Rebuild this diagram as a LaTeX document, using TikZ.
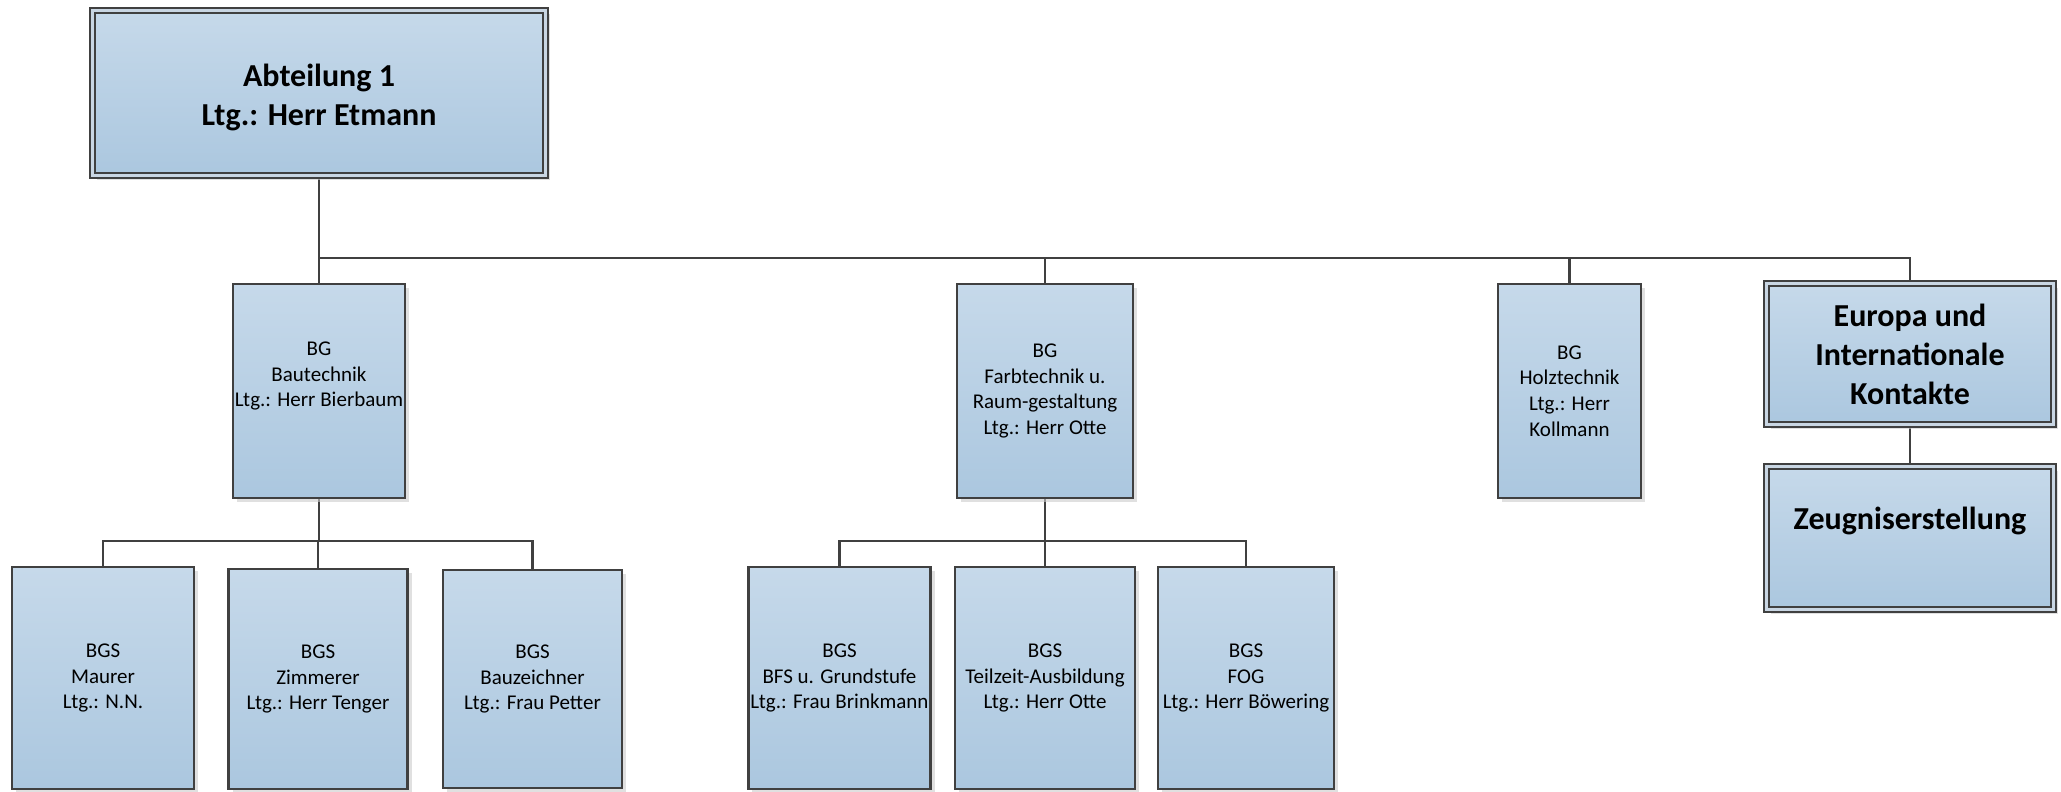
\documentclass[tikz,border=0pt]{standalone}
\usepackage{fontspec}
\setmainfont{Carlito}
\usetikzlibrary{shadows, backgrounds}

\definecolor{boxtop}{HTML}{C6D9EA}
\definecolor{boxbottom}{HTML}{ABC7DF}
\definecolor{boxline}{HTML}{404040}
\definecolor{boxgap}{HTML}{C9D6E3}

\tikzset{
    unit/.style={draw=boxline, line width=2.5pt, top color=boxtop, bottom color=boxbottom,
        align=center, inner sep=2pt, font=\fontsize{21}{25.6}\selectfont,
        drop shadow={shadow xshift=4pt, shadow yshift=-4pt, fill=black!20, opacity=0.6}},
    mainunit/.style={unit, double=boxgap, line width=1.8pt, double distance=3.5pt,
        font=\fontsize{32}{39}\selectfont\bfseries},
    link/.style={draw=boxline, line width=2.8pt},
}

\begin{document}
\begin{tikzpicture}[x=1pt, y=1pt]
    \useasboundingbox (0,0) rectangle (2061,-792);

    % Abteilung
    \node[mainunit, minimum width=453pt, minimum height=165pt] (abt) at (319,-93)
        {\strut\\[-34pt]Abteilung 1\\Ltg.: Herr Etmann};

    % Bildungsgaenge
    \node[unit, minimum width=171pt, minimum height=214pt] (bau) at (319,-391)
        {BG\\Bautechnik\\Ltg.: Herr Bierbaum\\\strut};
    \node[unit, minimum width=176pt, minimum height=214pt] (farb) at (1045,-391)
        {BG\\Farbtechnik u.\\Raum-gestaltung\\Ltg.: Herr Otte};
    \node[unit, minimum width=143pt, minimum height=214pt] (holz) at (1569.5,-391)
        {BG\\Holztechnik\\Ltg.: Herr\\Kollmann};
    \node[mainunit, minimum width=287pt, minimum height=141pt] (europa) at (1910,-354)
        {Europa und\\Internationale\\Kontakte};
    \node[mainunit, minimum width=287pt, minimum height=143pt] (zeug) at (1910,-538)
        {Zeugniserstellung\\[-12pt]\strut};

    % Bildungsgangstufen
    \node[unit, minimum width=182pt, minimum height=222pt] (maurer) at (103,-678)
        {BGS\\Maurer\\Ltg.: N.N.};
    \node[unit, minimum width=179pt, minimum height=220pt] (zimmer) at (318,-679)
        {BGS\\Zimmerer\\Ltg.: Herr Tenger};
    \node[unit, minimum width=179pt, minimum height=218pt] (bauz) at (532.5,-679)
        {BGS\\Bauzeichner\\Ltg.: Frau Petter};
    \node[unit, minimum width=181pt, minimum height=222pt] (bfs) at (839.5,-678)
        {BGS\\BFS u. Grundstufe\\Ltg.: Frau Brinkmann};
    \node[unit, minimum width=180pt, minimum height=222pt] (teilzeit) at (1045,-678)
        {BGS\\Teilzeit-Ausbildung\\Ltg.: Herr Otte};
    \node[unit, minimum width=176pt, minimum height=222pt] (fog) at (1246,-678)
        {BGS\\FOG\\Ltg.: Herr Böwering};

    % Verbindungen
    \coordinate (bus) at (0,-258);
    \coordinate (subbus) at (0,-541);
    \begin{scope}[on background layer]
        \draw[link] (abt.south) -- (bau.north);
        \foreach \n in {farb, holz, europa}
            \draw[link] (abt.south |- bus) -| (\n.north);
        \foreach \n in {maurer, zimmer, bauz}
            \draw[link] (bau.south) -- (bau.south |- subbus) -| (\n.north);
        \foreach \n in {bfs, teilzeit, fog}
            \draw[link] (farb.south) -- (farb.south |- subbus) -| (\n.north);
        \draw[link] (europa) -- (zeug);
    \end{scope}
\end{tikzpicture}
\end{document}
